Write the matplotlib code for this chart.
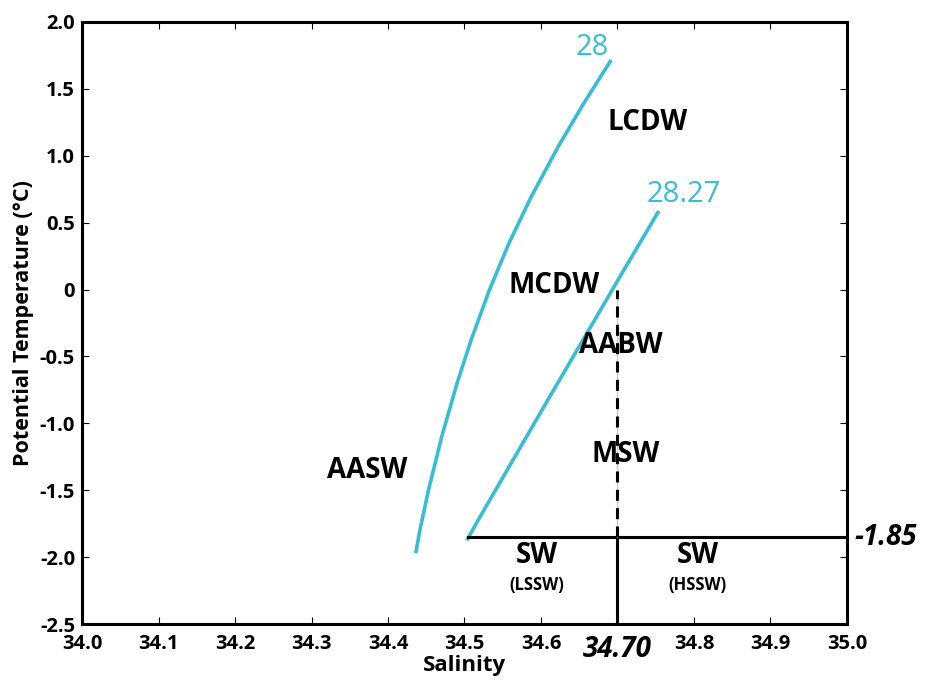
import numpy as np
import matplotlib.pyplot as plt

# isopycnal 28 (salinity, potential temperature)
s_28 = [34.4362, 34.4418, 34.4530, 34.4703, 34.4903, 34.5087, 34.5326,
        34.5581, 34.5873, 34.6225, 34.6559, 34.6918]
t_28 = [-1.971, -1.797, -1.498, -1.099, -0.700, -0.377, -0.003,
        0.346, 0.694, 1.068, 1.392, 1.716]

# isopycnal 28.27
s_2827 = [34.503, 34.518, 34.6085, 34.7085, 34.754]
t_2827 = [-1.875, -1.722, -0.83, 0.147, 0.587]

# freezing line / salinity split
t_freeze = -1.85
s_split = 34.70
s_freeze = [34.505, 35.0]

# water mass labels: (text, salinity, temperature)
masses = [
    ("LCDW", 34.74, 1.25),
    ("MCDW", 34.617, 0.03),
    ("AABW", 34.705, -0.42),
    ("MSW", 34.711, -1.236),
    ("AASW", 34.3725, -1.356),
]

x_ticks = [34.0, 34.1, 34.2, 34.3, 34.4, 34.5, 34.6, 34.7, 34.8, 34.9, 35.0]
x_labels = ["34.0", "34.1", "34.2", "34.3", "34.4", "34.5", "34.6", "", "34.8", "34.9", "35.0"]
y_ticks = [2.0, 1.5, 1.0, 0.5, 0.0, -0.5, -1.0, -1.5, -2.0, -2.5]
y_labels = ["2.0", "1.5", "1.0", "0.5", "0", "-0.5", "-1.0", "-1.5", "-2.0", "-2.5"]

cyan = "#38bdd6"
plt.rcParams['font.family'] = ['Open Sans', 'DejaVu Sans']

fig = plt.figure(figsize=(9.26, 6.81), dpi=100)
ax = fig.add_axes([0.0886, 0.0837, 0.826, 0.884])

ax.plot(s_28, t_28, color=cyan, lw=2.6, solid_capstyle='butt')
ax.plot(s_2827, t_2827, color=cyan, lw=2.6, solid_capstyle='butt')

# freezing temperature line
ax.plot(s_freeze, [t_freeze, t_freeze], color='black', lw=2.2, clip_on=False)
# 34.70 split: solid below freezing, dashed above
ax.plot([s_split, s_split], [-2.5, t_freeze], color='black', lw=2.2)
ax.plot([s_split, s_split], [t_freeze, 0.0], color='#c8c8c8', lw=0.9)
ax.plot([s_split, s_split], [t_freeze, 0.0], color='black', lw=2.2,
        linestyle=(0, (3.6, 2.4)))

ax.text(34.667, 1.81, "28", color=cyan, fontsize=21, ha='center', va='center')
ax.text(34.787, 0.71, "28.27", color=cyan, fontsize=21, ha='center', va='center')

for name, s, t in masses:
    ax.text(s, t, name, fontsize=20, fontweight='bold', ha='center', va='center')

ax.text(34.595, -1.99, "SW", fontsize=20, fontweight='bold', ha='center', va='center')
ax.text(34.595, -2.21, "(LSSW)", fontsize=12, fontweight='bold', ha='center', va='center')
ax.text(34.805, -1.99, "SW", fontsize=20, fontweight='bold', ha='center', va='center')
ax.text(34.805, -2.21, "(HSSW)", fontsize=12, fontweight='bold', ha='center', va='center')

ax.text(35.01, t_freeze, "-1.85", fontsize=20, fontweight='bold', style='italic',
        ha='left', va='center', clip_on=False)
ax.text(s_split, -2.69, "34.70", fontsize=20, fontweight='bold', style='italic',
        ha='center', va='center', clip_on=False)

ax.set_xlim(34.0, 35.0)
ax.set_ylim(-2.5, 2.0)
ax.set_xticks(x_ticks)
ax.set_xticklabels(x_labels)
ax.set_yticks(y_ticks)
ax.set_yticklabels(y_labels)
ax.tick_params(direction='in', length=5, width=0.8, top=True, right=True,
               labelsize=14.5)
ax.tick_params(axis='x', pad=7)
ax.tick_params(axis='y', pad=5)
for lab in ax.get_xticklabels() + ax.get_yticklabels():
    lab.set_fontweight('bold')
for sp in ax.spines.values():
    sp.set_linewidth(2.2)

ax.set_xlabel("Salinity", fontsize=16, fontweight='bold', labelpad=1)
ax.set_ylabel("Potential Temperature (°C)", fontsize=15.5, fontweight='bold', labelpad=4)

fig.savefig("out.png", dpi=100)
